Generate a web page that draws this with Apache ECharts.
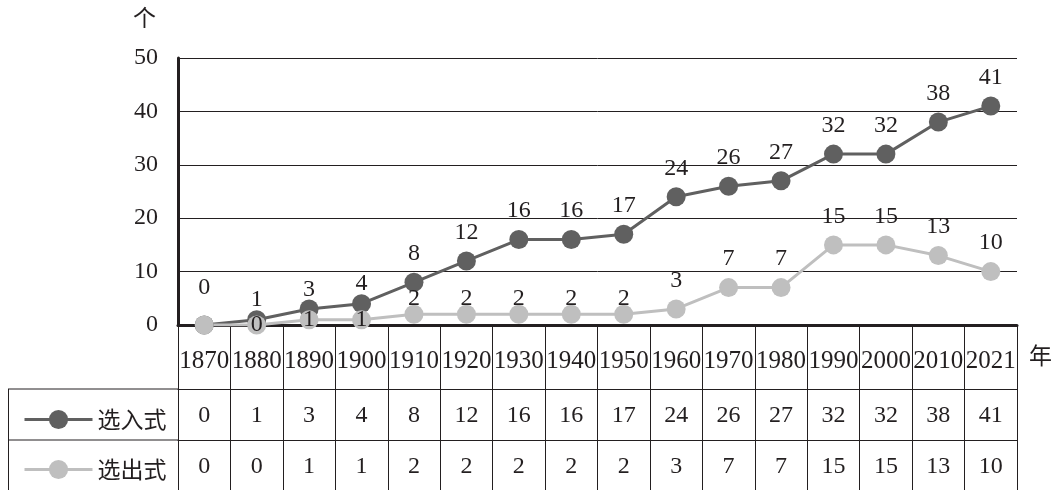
<!DOCTYPE html>
<html>
<head>
<meta charset="utf-8">
<script src="https://cdn.jsdelivr.net/npm/echarts@6/dist/echarts.min.js"></script>
<style>
  html, body { margin: 0; padding: 0; background: #fff; }
  #chart { width: 1054px; height: 490px; }
</style>
</head>
<body>
<div id="chart"></div>
<script>
// data
const years = ['1870', '1880', '1890', '1900', '1910', '1920', '1930', '1940',
  '1950', '1960', '1970', '1980', '1990', '2000', '2010', '2021']
const selIn = [0, 1, 3, 4, 8, 12, 16, 16, 17, 24, 26, 27, 32, 32, 38, 41]
const selOut = [0, 0, 1, 1, 2, 2, 2, 2, 2, 3, 7, 7, 15, 15, 13, 10]
const yTicks = [0, 10, 20, 30, 40, 50]

const serif = 'Liberation Serif'
const cjk = 'Noto Sans CJK SC'
const ink = '#231f20'

const myChart = echarts.init(document.getElementById('chart'))

// label tweaks, like the hand placed labels of the original
const inData = selIn.map((v, i) => {
    let d = 7
    if (i === 0) d = 16
    if (i >= 1 && i <= 3) d = -2
    return { value: v, label: { distance: d } }
})
const outData = selOut.map((v, i) => {
    if (i === 0) return { value: v, label: { show: false } }
    if (i <= 3) return { value: v, label: { position: 'inside' } }
    if (i <= 8) return { value: v, label: { distance: -6 } }
    return { value: v }
})

const tableAxis = (offset, tickLen, margin, values) => ({
    type: 'category',
    data: years,
    position: 'bottom',
    offset: offset,
    axisLine: { show: true, lineStyle: { color: ink, width: 1 } },
    axisTick: { show: true, interval: 0, length: tickLen, lineStyle: { color: ink, width: 1 } },
    axisLabel: {
        interval: 0,
        margin: margin,
        verticalAlign: 'middle',
        fontFamily: serif,
        fontSize: 24,
        color: ink,
        formatter: (v, i) => values ? String(values[i]) : v
    },
    splitLine: { show: false }
})

const yearAxis = tableAxis(0, 64, 36, null)
yearAxis.axisLine.lineStyle.width = 3
yearAxis.axisLabel.fontSize = 25

// one legend per table row
const rowLegend = (name, top) => ({
    data: [name],
    orient: 'vertical',
    left: 18,
    top: top,
    itemWidth: 68,
    itemHeight: 24,
    selectedMode: false,
    lineStyle: { width: 3 },
    textStyle: { fontFamily: cjk, fontSize: 23, color: ink }
})

var option = {
    animation: false,
    backgroundColor: '#fff',
    grid: { left: 178, right: 37, top: 58, bottom: 165, containLabel: false },
    legend: [
        rowLegend('选入式', 403),
        rowLegend('选出式', 453)
    ],
    xAxis: [
        yearAxis,
        tableAxis(64, 51, 27, selIn),
        tableAxis(115, 52, 27, selOut)
    ],
    yAxis: {
        type: 'value',
        min: yTicks[0],
        max: yTicks[yTicks.length - 1],
        interval: 10,
        axisLine: { show: true, lineStyle: { color: ink, width: 3 } },
        axisTick: { show: false },
        splitLine: { lineStyle: { color: ink, width: 1 } },
        axisLabel: { margin: 20, fontFamily: serif, fontSize: 24, color: ink }
    },
    graphic: [
        { type: 'text', left: 133, top: 6, style: { text: '个', fontFamily: cjk, fontSize: 23, fill: ink } },
        { type: 'text', left: 1029, top: 344, style: { text: '年', fontFamily: cjk, fontSize: 23, fill: ink } },
        // left column of the data table
        { type: 'line', shape: { x1: 8, y1: 389, x2: 178, y2: 389 }, style: { stroke: ink, lineWidth: 1 } },
        { type: 'line', shape: { x1: 8, y1: 440, x2: 178, y2: 440 }, style: { stroke: ink, lineWidth: 1 } },
        { type: 'line', shape: { x1: 8.5, y1: 389, x2: 8.5, y2: 490 }, style: { stroke: ink, lineWidth: 1 } }
    ],
    series: [
        {
            name: '选入式',
            type: 'line',
            data: inData,
            symbol: 'circle',
            symbolSize: 19,
            itemStyle: { color: '#606060' },
            lineStyle: { color: '#606060', width: 3 },
            label: { show: true, position: 'top', distance: 7, fontFamily: serif, fontSize: 24, color: ink }
        },
        {
            name: '选出式',
            type: 'line',
            data: outData,
            symbol: 'circle',
            symbolSize: 19,
            itemStyle: { color: '#bfbfbf' },
            lineStyle: { color: '#bfbfbf', width: 3 },
            label: { show: true, position: 'top', distance: 7, fontFamily: serif, fontSize: 24, color: ink }
        }
    ]
}

myChart.setOption(option)
</script>
</body>
</html>
